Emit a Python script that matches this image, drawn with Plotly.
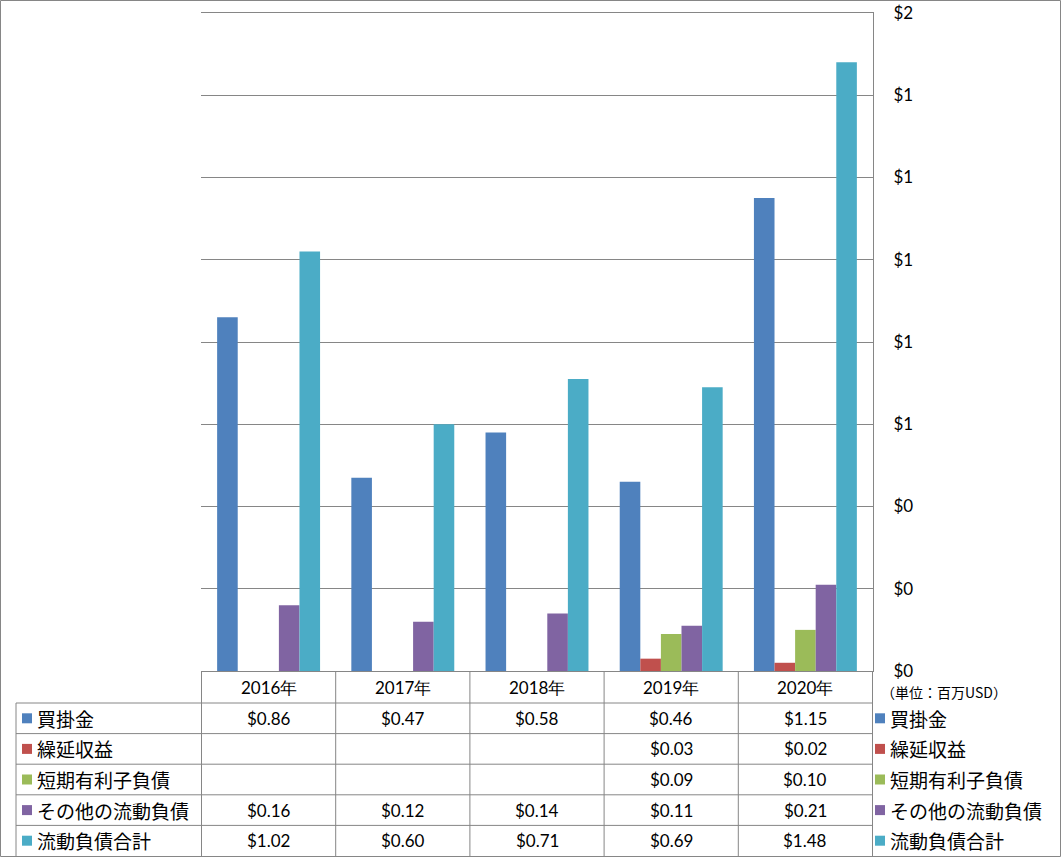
import plotly.graph_objects as go

# ---------------- data ----------------
years = ["2016年", "2017年", "2018年", "2019年", "2020年"]
series_names = ["買掛金", "繰延収益", "短期有利子負債", "その他の流動負債", "流動負債合計"]
accounts_payable = [0.86, 0.47, 0.58, 0.46, 1.15]
deferred_revenue = [None, None, None, 0.03, 0.02]
short_term_debt = [None, None, None, 0.09, 0.10]
other_current = [0.16, 0.12, 0.14, 0.11, 0.21]
total_current = [1.02, 0.60, 0.71, 0.69, 1.48]
unit_label = "（単位：百万USD）"

series_values = [accounts_payable, deferred_revenue, short_term_debt, other_current, total_current]
colors = ["#4F81BD", "#C0504D", "#9BBB59", "#8064A2", "#4BACC6"]

# ---------------- layout constants (pixels) ----------------
W, H = 1061, 858
PL, PR, PT, PB = 201, 873, 13, 671
GRID = "#868686"
NUM_FONT = "Lato, 'Open Sans', sans-serif"
JP_FONT = "'Noto Sans CJK JP', sans-serif"
row_edges = [671, 703, 733.6, 764.2, 794.8, 825.4, 856]
LABEL_LEFT = 16


def px_x(p):
    return (p - PL) / (PR - PL)


def px_y(p):
    return (PB - p) / (PB - PT)


fig = go.Figure()
for name, vals, col in zip(series_names, series_values, colors):
    fig.add_trace(go.Bar(x=years, y=vals, name=name, marker_color=col,
                         marker_line_width=0, showlegend=False))

shapes = []
annotations = []

# outer chart border
shapes.append(dict(type="rect", xref="paper", yref="paper",
                   x0=px_x(0.5), x1=px_x(W - 0.5), y0=px_y(H - 1.5), y1=px_y(0.5),
                   line=dict(color=GRID, width=1)))

# table horizontal lines
for ry in row_edges[1:-1]:
    shapes.append(dict(type="line", xref="paper", yref="paper",
                       x0=px_x(LABEL_LEFT), x1=1, y0=px_y(ry), y1=px_y(ry),
                       line=dict(color=GRID, width=1)))
# table vertical lines (category boundaries through the x axis)
for i in range(len(years) + 1):
    shapes.append(dict(type="line", xref="x", yref="paper",
                       x0=i - 0.5, x1=i - 0.5, y0=px_y(row_edges[0]), y1=px_y(row_edges[-1]),
                       line=dict(color=GRID, width=1)))
# label column left edge
shapes.append(dict(type="line", xref="paper", yref="paper",
                   x0=px_x(LABEL_LEFT), x1=px_x(LABEL_LEFT),
                   y0=px_y(row_edges[1]), y1=px_y(row_edges[-1]),
                   line=dict(color=GRID, width=1)))

# header row (years)
hc = (row_edges[0] + row_edges[1]) / 2
for yr in years:
    annotations.append(dict(x=yr, xref="x", y=px_y(hc), yref="paper", text=yr,
                            showarrow=False, font=dict(family=NUM_FONT, size=17, color="#000"),
                            xanchor="center", yanchor="middle"))

# body rows
for r, (name, vals, col) in enumerate(zip(series_names, series_values, colors)):
    cy = (row_edges[r + 1] + row_edges[r + 2]) / 2
    for sx in (22, 875):
        shapes.append(dict(type="rect", xref="paper", yref="paper",
                           x0=px_x(sx), x1=px_x(sx + 10), y0=px_y(cy + 5), y1=px_y(cy - 5),
                           fillcolor=col, line=dict(width=0)))
    for tx in (35, 888):
        annotations.append(dict(x=px_x(tx), xref="paper", y=px_y(cy), yref="paper", text=name,
                                showarrow=False, font=dict(family=JP_FONT, size=19, color="#000"),
                                xanchor="left", yanchor="middle"))
    for yr, v in zip(years, vals):
        if v is None:
            continue
        annotations.append(dict(x=yr, xref="x", y=px_y(cy), yref="paper", text=f"${v:.2f}",
                                showarrow=False, font=dict(family=NUM_FONT, size=17, color="#000"),
                                xanchor="center", yanchor="middle"))

annotations.append(dict(x=px_x(879), xref="paper", y=px_y(692), yref="paper", text=unit_label,
                        showarrow=False, font=dict(family=JP_FONT, size=14, color="#000"),
                        xanchor="left", yanchor="middle"))

fig.update_layout(
    width=W, height=H,
    margin=dict(l=PL, r=W - PR, t=PT, b=H - PB, pad=0, autoexpand=False),
    paper_bgcolor="white", plot_bgcolor="white",
    barmode="group", bargap=0.233, bargroupgap=0,
    shapes=shapes, annotations=annotations,
    xaxis=dict(showticklabels=False, showgrid=False, showline=True, mirror=True, linecolor=GRID,
               linewidth=1, ticks="", zeroline=False, automargin=False),
    yaxis=dict(side="right", range=[0, 1.6], dtick=0.2, tickformat="$,.0f",
               showgrid=True, gridcolor=GRID, gridwidth=1, showline=True, linecolor=GRID,
               linewidth=1, zeroline=False, ticks="", ticklabelstandoff=16, automargin=False,
               tickfont=dict(family=NUM_FONT, size=17, color="#000")),
)

fig.write_html("out.html", config={"displayModeBar": False},
               post_script="document.body.style.margin='0';document.body.style.overflow='hidden';")
